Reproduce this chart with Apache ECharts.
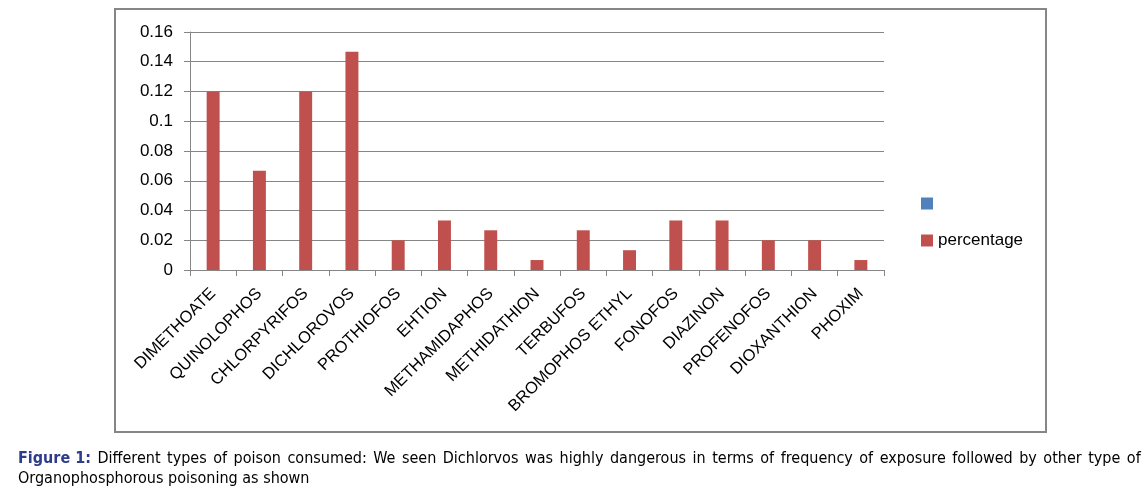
<!DOCTYPE html>
<html><head><meta charset="utf-8">
<script src="https://cdn.jsdelivr.net/npm/echarts@6/dist/echarts.min.js"></script>
<style>html,body{margin:0;padding:0;background:#fff}#c{width:1148px;height:493px}</style>
</head><body><div id="c"></div>
<script>
const categories = ['DIMETHOATE','QUINOLOPHOS','CHLORPYRIFOS','DICHLOROVOS','PROTHIOFOS','EHTION','METHAMIDAPHOS','METHIDATHION','TERBUFOS','BROMOPHOS ETHYL','FONOFOS','DIAZINON','PROFENOFOS','DIOXANTHION','PHOXIM'];
const percentage = [0.12,0.0667,0.12,0.1467,0.02,0.0333,0.0267,0.0067,0.0267,0.0133,0.0333,0.0333,0.02,0.02,0.0067];
const yTicks = [0,0.02,0.04,0.06,0.08,0.1,0.12,0.14,0.16];
const captionBold = 'Figure 1:';
const captionLine1 = ' Different types of poison consumed: We seen Dichlorvos was highly dangerous in terms of frequency of exposure followed by other type of';
const captionLine2 = 'Organophosphorous poisoning as shown';

const chart = echarts.init(document.getElementById('c'));
const font = '"Liberation Sans", Arial, sans-serif';
const capFont = '"DejaVu Sans Condensed", sans-serif';
const capSize = 16;
chart.setOption({
  animation: false,
  backgroundColor: '#fff',
  grid: {left: 190, right: 264, top: 32, bottom: 223, containLabel: false},
  legend: {
    orient: 'vertical', left: 916, top: 190, itemWidth: 12, itemHeight: 12, itemGap: 20,
    icon: 'rect', data: [' ', 'percentage'],
    textStyle: {fontFamily: font, fontSize: 17, color: '#000'}
  },
  xAxis: {
    type: 'category', data: categories,
    axisLine: {lineStyle: {color: '#868686', width: 1}},
    axisTick: {show: true, length: 6, lineStyle: {color: '#868686'}},
    axisLabel: {rotate: 45, margin: 21, fontFamily: font, fontSize: 16.5, color: '#000', interval: 0}
  },
  yAxis: {
    type: 'value', min: 0, max: 0.16, interval: 0.02,
    axisLine: {show: true, lineStyle: {color: '#868686'}},
    axisTick: {show: true, length: 6, lineStyle: {color: '#868686'}},
    splitLine: {lineStyle: {color: '#868686', width: 1}},
    axisLabel: {fontFamily: font, fontSize: 17, color: '#000', margin: 17,
      formatter: v => { const t = yTicks.find(x => Math.abs(x - v) < 1e-9); return String(t !== undefined ? t : v); }}
  },
  series: [
    {name: ' ', type: 'bar', data: [], itemStyle: {color: '#4f81bd'}},
    {name: 'percentage', type: 'bar', data: percentage, barWidth: '28%', barGap: '-100%',
     itemStyle: {color: '#c0504d'}}
  ],
  graphic: [
    {type: 'rect', shape: {x: 115, y: 9, width: 931, height: 423}, style: {fill: 'none', stroke: '#868686', lineWidth: 2}, silent: true},
    {type: 'text', left: 18, top: 451, style: {
      text: '{b|' + captionBold + '}' + captionLine1.split(' ').join('{s| }'),
      rich: {b: {fontWeight: 'bold', fill: '#2e3c8c', fontFamily: capFont, fontSize: capSize},
             s: {width: 6.5, fontFamily: capFont, fontSize: capSize}},
      fontFamily: capFont, fontSize: capSize, fill: '#000'}},
    {type: 'text', left: 18, top: 471, style: {
      text: captionLine2, fontFamily: capFont, fontSize: capSize, fill: '#000'}}
  ]
});
</script></body></html>
